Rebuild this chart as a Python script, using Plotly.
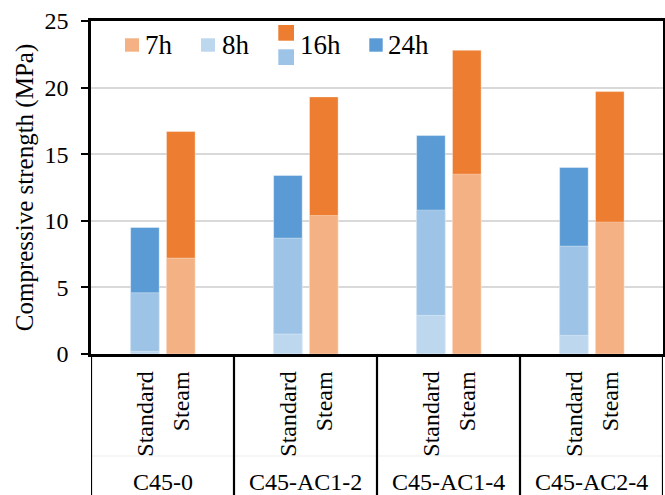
import plotly.graph_objects as go

groups = ["C45-0", "C45-AC1-2", "C45-AC1-4", "C45-AC2-4"]
curing = ["Standard", "Steam"]
std_8h = [0.2, 1.5, 2.9, 1.4]
std_16h = [4.6, 8.7, 10.8, 8.1]
std_24h = [9.5, 13.4, 16.4, 14.0]
steam_7h = [7.2, 10.4, 13.5, 9.9]
steam_16h = [16.7, 19.3, 22.8, 19.7]
legend_names = ["7h", "8h", "16h", "24h"]

C_7H = "#F4B183"
C_16H_ST = "#ED7D31"
C_8H = "#BDD7EE"
C_16H_SD = "#9DC3E6"
C_24H = "#5B9BD5"

FONT = "Times New Roman"
W, H = 665, 495
L, R, T, B = 91, 2, 21, 141
PW, PH = W - L - R, H - T - B

def px(x):
    return (x - L) / PW

def py(y):
    return (H - B - y) / PH

idx = list(range(len(groups)))
std_x = [i - 0.123 for i in idx]
steam_x = [i + 0.128 for i in idx]
BW = 0.2
edge = dict(width=0.8, color="rgba(255,255,255,0.45)")

fig = go.Figure()
for vals, col in [(std_24h, C_24H), (std_16h, C_16H_SD), (std_8h, C_8H)]:
    fig.add_trace(go.Bar(x=std_x, y=vals, width=BW, marker=dict(color=col, line=edge),
                         showlegend=False))
for vals, col in [(steam_16h, C_16H_ST), (steam_7h, C_7H)]:
    fig.add_trace(go.Bar(x=steam_x, y=vals, width=BW, marker=dict(color=col, line=edge),
                         showlegend=False))

tickvals = []
ticktext = []
for i in idx:
    tickvals += [std_x[i], steam_x[i]]
    ticktext += curing

shapes = []
ybot = py(H)
for xv in [-0.5, 0.5, 1.5, 2.5, 3.5]:
    shapes.append(dict(type="line", xref="x", yref="paper", x0=xv, x1=xv, y0=0, y1=ybot,
                       line=dict(color="black", width=2.2)))
shapes.append(dict(type="line", xref="paper", yref="paper", x0=0, x1=1, y0=py(456), y1=py(456),
                   line=dict(color="#EDEDED", width=1), layer="below"))

def sq(x0, x1, y0, y1, col):
    shapes.append(dict(type="rect", xref="paper", yref="paper", x0=px(x0), x1=px(x1),
                       y0=py(y1), y1=py(y0), fillcolor=col, line=dict(width=0)))

sq(125, 139, 38.3, 51.7, C_7H)
sq(201, 215, 38.3, 51.7, C_8H)
sq(278.3, 294, 25, 40.7, C_16H_ST)
sq(278.3, 294, 49.3, 65, C_16H_SD)
sq(369.3, 382.7, 38.3, 51.7, C_24H)

annotations = []
for name, xl in zip(legend_names, [143, 220, 298, 386]):
    annotations.append(dict(text=name, xref="paper", yref="paper", x=px(xl), y=py(45),
                            xanchor="left", yanchor="middle", showarrow=False,
                            font=dict(family=FONT, size=27, color="black")))
for i, g in enumerate(groups):
    annotations.append(dict(text=g, xref="x", yref="paper", x=i, y=py(497),
                            xanchor="center", yanchor="bottom", showarrow=False,
                            font=dict(family=FONT, size=24, color="black")))

fig.update_layout(
    width=W, height=H,
    margin=dict(l=L, r=R, t=T, b=B, autoexpand=False),
    paper_bgcolor="white", plot_bgcolor="white",
    barmode="overlay",
    font=dict(family=FONT, size=24, color="black"),
    xaxis=dict(range=[-0.5, 3.5], tickmode="array", tickvals=tickvals, ticktext=ticktext,
               tickangle=-90, ticks="", showgrid=False, zeroline=False, automargin=False,
               showline=True, linecolor="black", linewidth=2.5, mirror=True,
               ticklabelstandoff=5,
               tickfont=dict(family=FONT, size=24, color="black")),
    yaxis=dict(range=[0, 25], dtick=5, tick0=0, ticks="outside", ticklen=7, tickwidth=2.2,
               tickcolor="black", showgrid=True, gridcolor="#D9D9D9", gridwidth=2,
               zeroline=False, showline=True, linecolor="black", linewidth=2.5, mirror=True,
               ticklabelstandoff=8, automargin=False,
               tickfont=dict(family=FONT, size=24, color="black"),
               title=dict(text="Compressive strength (MPa)", standoff=4,
                          font=dict(family=FONT, size=25, color="black"))),
    yaxis2=dict(range=[0, 25], dtick=5, tick0=0, overlaying="y", side="left",
                ticks="inside", ticklen=6, tickwidth=2.2, tickcolor="black", automargin=False,
                showgrid=False, zeroline=False, showline=False, showticklabels=False),
    shapes=shapes,
    annotations=annotations,
)

fig.write_html("out.html", config={"displayModeBar": False},
               post_script="document.body.style.margin='0';document.body.style.padding='0';")
